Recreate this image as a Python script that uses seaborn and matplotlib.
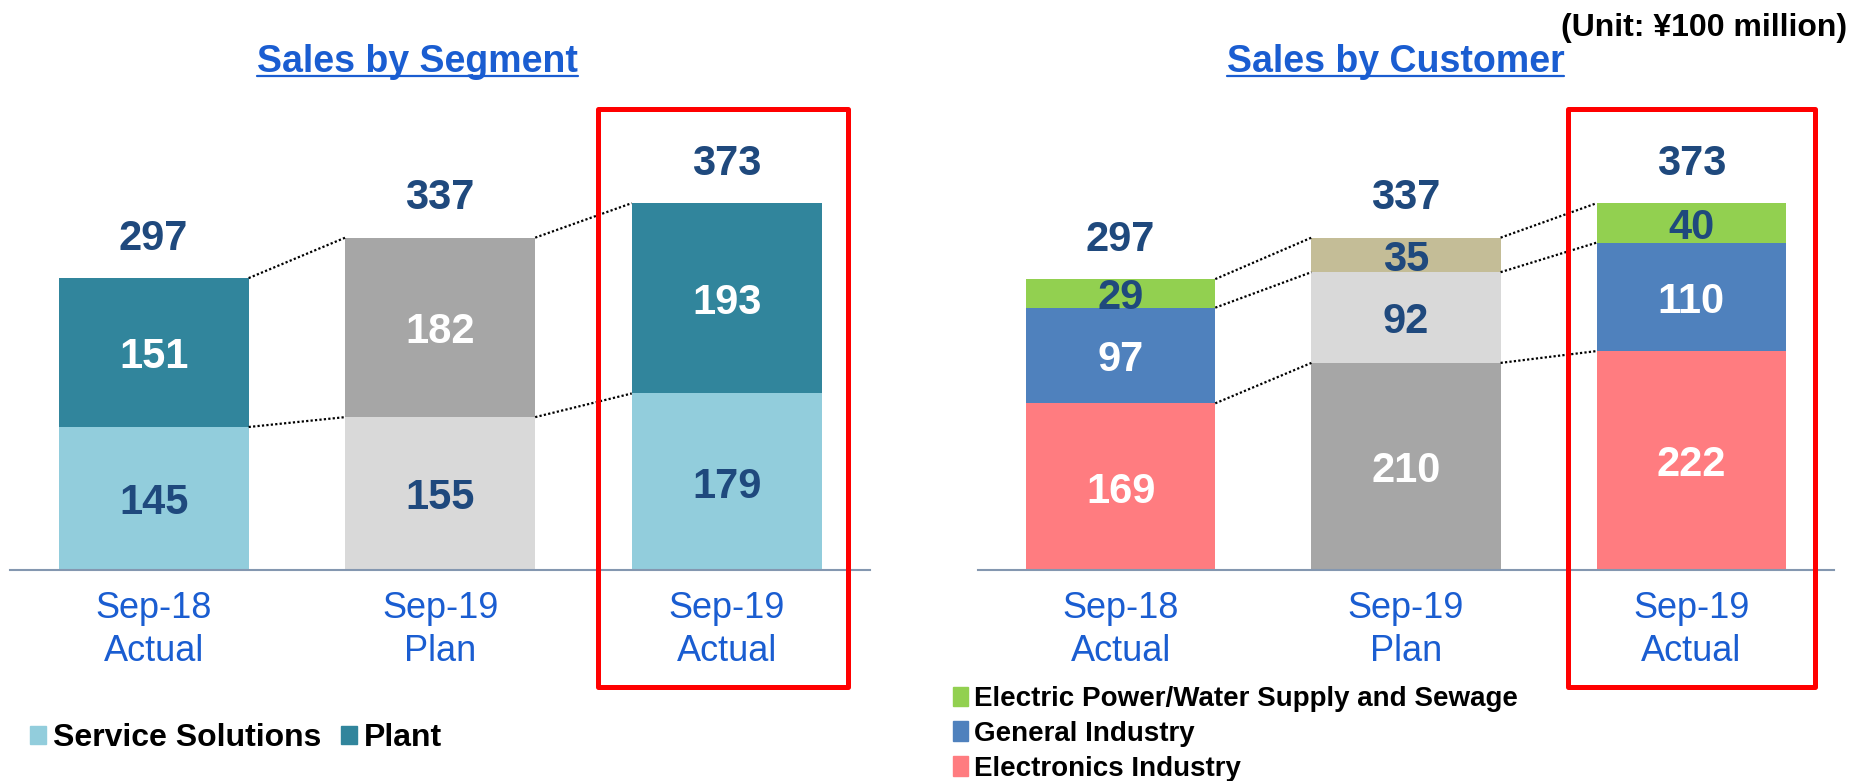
import numpy as np
import pandas as pd
import matplotlib
matplotlib.use("Agg")
import matplotlib.pyplot as plt
import seaborn as sns
from matplotlib.patches import Patch, Rectangle
from matplotlib.lines import Line2D

# ---------------- data ----------------
categories = ["Sep-18\nActual", "Sep-19\nPlan", "Sep-19\nActual"]

seg_names = ["Service Solutions", "Plant"]
seg_service = [145, 155, 179]
seg_plant = [151, 182, 193]
seg_totals = [297, 337, 373]

cust_names = ["Electric Power/Water Supply and Sewage", "General Industry", "Electronics Industry"]
cust_electronics = [169, 210, 222]
cust_general = [97, 92, 110]
cust_electric = [29, 35, 40]
cust_totals = [297, 337, 373]

# ---------------- style ----------------
sns.set_style("white")
plt.rcParams['font.family'] = ['Liberation Sans', 'DejaVu Sans']

NAVY = "#1F497D"
BLUE = "#1A5DD1"
WHITE = "#FFFFFF"
W, H = 1871, 781
BAR_W = 0.663

fig = plt.figure(figsize=(W / 100, H / 100), dpi=100)
ax_l = fig.add_axes([10.4 / W, 0.2702, 859.6 / W, 0.5909])
ax_r = fig.add_axes([978 / W, 0.2702, 856 / W, 0.5909])


def draw_stack(ax, layers, colors, label_colors, totals):
    layers = [np.asarray(l, dtype=float) for l in layers]
    tops = np.cumsum(layers, axis=0)
    bottoms = tops - np.array(layers)
    # draw from the topmost cumulative layer down so lower layers overlay
    for k in range(len(layers) - 1, -1, -1):
        df = pd.DataFrame({"cat": categories, "val": tops[k]})
        pal = {c: col for c, col in zip(categories, colors[k])}
        sns.barplot(data=df, x="cat", y="val", hue="cat", palette=pal,
                    dodge=False, legend=False, width=BAR_W, saturation=1,
                    linewidth=0, ax=ax, order=categories, hue_order=categories)
    # segment labels
    for k in range(len(layers)):
        for i in range(len(categories)):
            ax.annotate(f"{int(layers[k][i])}",
                        (i, bottoms[k][i] + layers[k][i] / 2),
                        xytext=(0, -3.5), textcoords="offset points",
                        ha="center", va="center", fontsize=30, fontweight="bold",
                        color=label_colors[k][i])
    # totals above bars
    for i in range(len(categories)):
        ax.annotate(f"{totals[i]}", (i, tops[-1][i] + 45),
                    xytext=(0, -3.5), textcoords="offset points",
                    ha="center", va="center",
                    fontsize=30, fontweight="bold", color=NAVY)
    # dotted connectors between bars
    for k in range(len(layers)):
        for i in range(len(categories) - 1):
            ax.plot([i + BAR_W / 2, i + 1 - BAR_W / 2], [tops[k][i], tops[k][i + 1]],
                    color="black", lw=1.6, ls=(0, (1, 1)))
    ax.set_xlim(-0.5, 2.5)
    ax.set_ylim(0, 468)
    ax.set_yticks([])
    ax.set_xlabel("")
    ax.set_ylabel("")
    for s in ["left", "right", "top"]:
        ax.spines[s].set_visible(False)
    ax.spines["bottom"].set_color("#8497B0")
    ax.spines["bottom"].set_linewidth(1.5)
    ax.tick_params(axis="x", length=0, pad=15, labelsize=26, labelcolor=BLUE)
    for t in ax.get_xticklabels():
        t.set_linespacing(1.32)


draw_stack(ax_l, [seg_service, seg_plant],
           [["#92CDDC", "#D9D9D9", "#92CDDC"], ["#31859C", "#A6A6A6", "#31859C"]],
           [[NAVY, NAVY, NAVY], [WHITE, WHITE, WHITE]],
           seg_totals)

draw_stack(ax_r, [cust_electronics, cust_general, cust_electric],
           [["#FF7C80", "#A6A6A6", "#FF7C80"],
            ["#4F81BD", "#D9D9D9", "#4F81BD"],
            ["#92D050", "#C4BD97", "#92D050"]],
           [[WHITE, WHITE, WHITE], [WHITE, NAVY, WHITE], [NAVY, NAVY, NAVY]],
           cust_totals)

# ---------------- titles ----------------
t1 = fig.text(417.6 / W, 0.9083, "Sales by Segment", ha="center", va="baseline",
              fontsize=27, fontweight="bold", color=BLUE)
t2 = fig.text(1395.5 / W, 0.9083, "Sales by Customer", ha="center", va="baseline",
              fontsize=27, fontweight="bold", color=BLUE)
fig.text(1847 / W, 0.954, "(Unit: \u00a5100 million)", ha="right", va="baseline",
         fontsize=23, fontweight="bold", color="black")

fig.canvas.draw()
renderer = fig.canvas.get_renderer()
for t in (t1, t2):
    bb = t.get_window_extent(renderer)
    fig.add_artist(Line2D([bb.x0 / W, bb.x1 / W], [0.9027, 0.9027],
                          transform=fig.transFigure, color=BLUE, lw=1.6))

# ---------------- highlight boxes ----------------
for x0, x1 in [(598, 848), (1568, 1815)]:
    y_top, y_bot = 108.6, 687
    fig.add_artist(Rectangle((x0 / W, 1 - y_bot / H), (x1 - x0) / W, (y_bot - y_top) / H,
                             transform=fig.transFigure, fill=False, ec="#FF0000",
                             lw=3.6, joinstyle="round"))

# ---------------- legends ----------------
seg_handles = [Patch(color="#92CDDC"), Patch(color="#31859C")]
leg1 = fig.legend(seg_handles, seg_names, loc="center left",
                  bbox_to_anchor=(30 / W, 1 - 738 / H), ncol=2, frameon=False,
                  prop=dict(family="Liberation Sans", weight="bold", size=23),
                  handlelength=0.5, handleheight=0.5, handletextpad=0.22,
                  columnspacing=0.6, borderpad=0, borderaxespad=0)
for t in leg1.get_texts():
    t.set_color("black")

cust_handles = [Patch(color="#92D050"), Patch(color="#4F81BD"), Patch(color="#FF7C80")]
leg2 = fig.legend(cust_handles, cust_names, loc="upper left",
                  bbox_to_anchor=(953 / W, 1 - 686 / H), ncol=1, frameon=False,
                  prop=dict(family="Liberation Sans", weight="bold", size=20),
                  handlelength=0.55, handleheight=0.7, handletextpad=0.2,
                  labelspacing=0.32, borderpad=0, borderaxespad=0)
for t in leg2.get_texts():
    t.set_color("black")

fig.savefig("out.png", dpi=100)
